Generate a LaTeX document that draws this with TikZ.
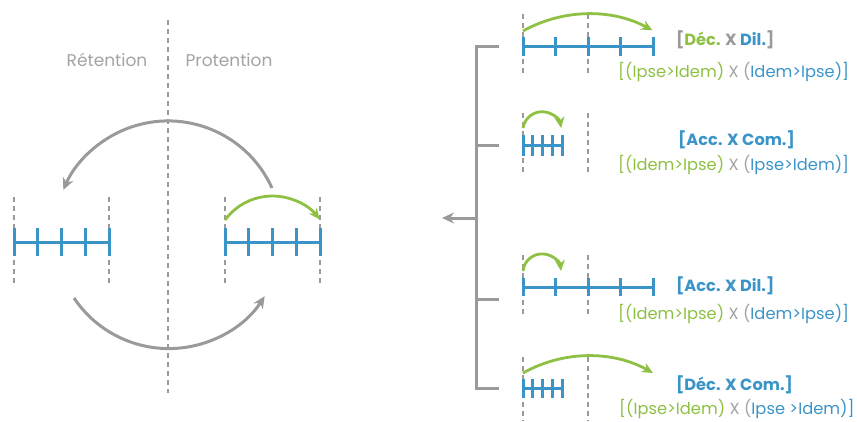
\documentclass[tikz,border=0pt]{standalone}
\usepackage{fontspec}
\setmainfont{Poppins}
\usetikzlibrary{arrows.meta}
\definecolor{cblue}{HTML}{3B94C8}
\definecolor{cgreen}{HTML}{8DC043}
\definecolor{cgray}{HTML}{9A9A9A}
\definecolor{tgray}{HTML}{A3A3A3}
\newcommand\myruler[4]{%
  \draw[ruler] (#1,#3) -- (#2,#3);
  \foreach \i in {0,...,4}
    \draw[ruler] ({#1+(#2-#1)*\i/4},{#3-#4}) -- ({#1+(#2-#1)*\i/4},{#3+#4});
}
\begin{document}
\begin{tikzpicture}[x=1pt,y=-1pt,
  ruler/.style={draw=cblue, line width=3pt},
  dashline/.style={draw=cgray, line width=1.3pt, dash pattern=on 5pt off 4pt},
  grayarc/.style={draw=cgray, line width=3pt, -{Stealth[length=12pt,width=11pt]}},
  greenarc/.style={draw=cgreen, line width=2.8pt, -{Stealth[length=11pt,width=10pt]}},
  bracket/.style={draw=cgray, line width=3pt},
  lbl/.style={font=\fontsize{17}{19}\selectfont, text=tgray, inner sep=0pt},
  title/.style={font=\bfseries\fontsize{16.2}{18}\selectfont, text=cblue, inner sep=0pt, anchor=west},
  formula/.style={font=\fontsize{16.3}{18}\selectfont, inner sep=0pt, anchor=west},
]
\useasboundingbox (0,0) rectangle (857,421);
% ---------- left part ----------
\draw[dashline] (168,20) -- (168,393);
\node[lbl] (ret) at (107,60) {Rétention};
\node[lbl] (pro) at (229,60) {Protention};
\foreach \x in {14,109,225,320} \draw[dashline] (\x,197) -- (\x,285);
\myruler{14}{109}{242}{14}
\myruler{225}{320}{242}{14}
\coordinate (ua) at (272,188);
\coordinate (la) at (74,298);
\coordinate (ga) at (225,220);
\draw[grayarc] (ua) arc[start angle=-24.3, end angle=-156.8, radius=114];
\draw[grayarc] (la) arc[start angle=146.2, end angle=32.7, radius=114];
\draw[greenarc] (ga) arc[start angle=-143.6, end angle=-37.2, radius=59];
% ---------- bracket ----------
\coordinate (b1) at (499,46);
\coordinate (b2) at (499,145);
\coordinate (b3) at (499,299);
\coordinate (b4) at (499,388);
\coordinate (bm) at (476,218);
\coordinate (bo) at (442,218);
\draw[bracket] (b1) -| (b4 -| bm) -- (b4);
\draw[bracket] (b2) -- (b2 -| bm);
\draw[bracket] (b3) -- (b3 -| bm);
\draw[bracket, -{Stealth[length=12pt,width=11pt]}] (bm) -- (bo);
% ---------- right rulers ----------
\foreach \x in {523,588} {
  \draw[dashline] (\x,14) -- (\x,75);
  \draw[dashline] (\x,113) -- (\x,173);
  \draw[dashline] (\x,255) -- (\x,316);
  \draw[dashline] (\x,357) -- (\x,421);
}
\myruler{523}{653}{46}{9.5}
\myruler{523}{562}{145}{10.5}
\myruler{523}{653}{287}{9}
\myruler{523}{562}{388}{9.5}
\coordinate (g1) at (523,31);
\coordinate (g2) at (523,128);
\coordinate (g3) at (523,271);
\coordinate (g4) at (523,373);
\draw[greenarc] (g1) arc[start angle=-119.1, end angle=-61.5, radius=134.3];
\draw[greenarc] (g2) arc[start angle=-171, end angle=-9, radius=19.3];
\draw[greenarc] (g3) arc[start angle=-174, end angle=-6, radius=19.1];
\draw[greenarc] (g4) arc[start angle=-119.3, end angle=-60.7, radius=132.8];
% ---------- texts ----------
\node[title] (t1) at (676,40) {\textcolor{cgray}{[}\textcolor{cgreen}{Déc.} \textcolor{cgray}{X} Dil.\textcolor{cgray}{]}};
\node[formula] (f1) at (618,72) {\textcolor{cgreen}{[(Ipse>Idem)} \textcolor{tgray}{X (}\textcolor{cblue}{Idem>Ipse)]}};
\node[title] (t2) at (678,140) {[Acc. X Com.]};
\node[formula] (f2) at (618,165) {\textcolor{cgreen}{[(Idem>Ipse)} \textcolor{tgray}{X (}\textcolor{cblue}{Ipse>Idem)]}};
\node[title] (t3) at (676,286) {[Acc. X Dil.]};
\node[formula] (f3) at (618,314) {\textcolor{cgreen}{[(Idem>Ipse)} \textcolor{tgray}{X (}\textcolor{cblue}{Idem>Ipse)]}};
\node[title] (t4) at (676,385) {[Déc. X Com.]};
\node[formula] (f4) at (619,409) {\textcolor{cgreen}{[(Ipse>Idem)} \textcolor{tgray}{X (}\textcolor{cblue}{Ipse >Idem)]}};
\end{tikzpicture}
\end{document}
